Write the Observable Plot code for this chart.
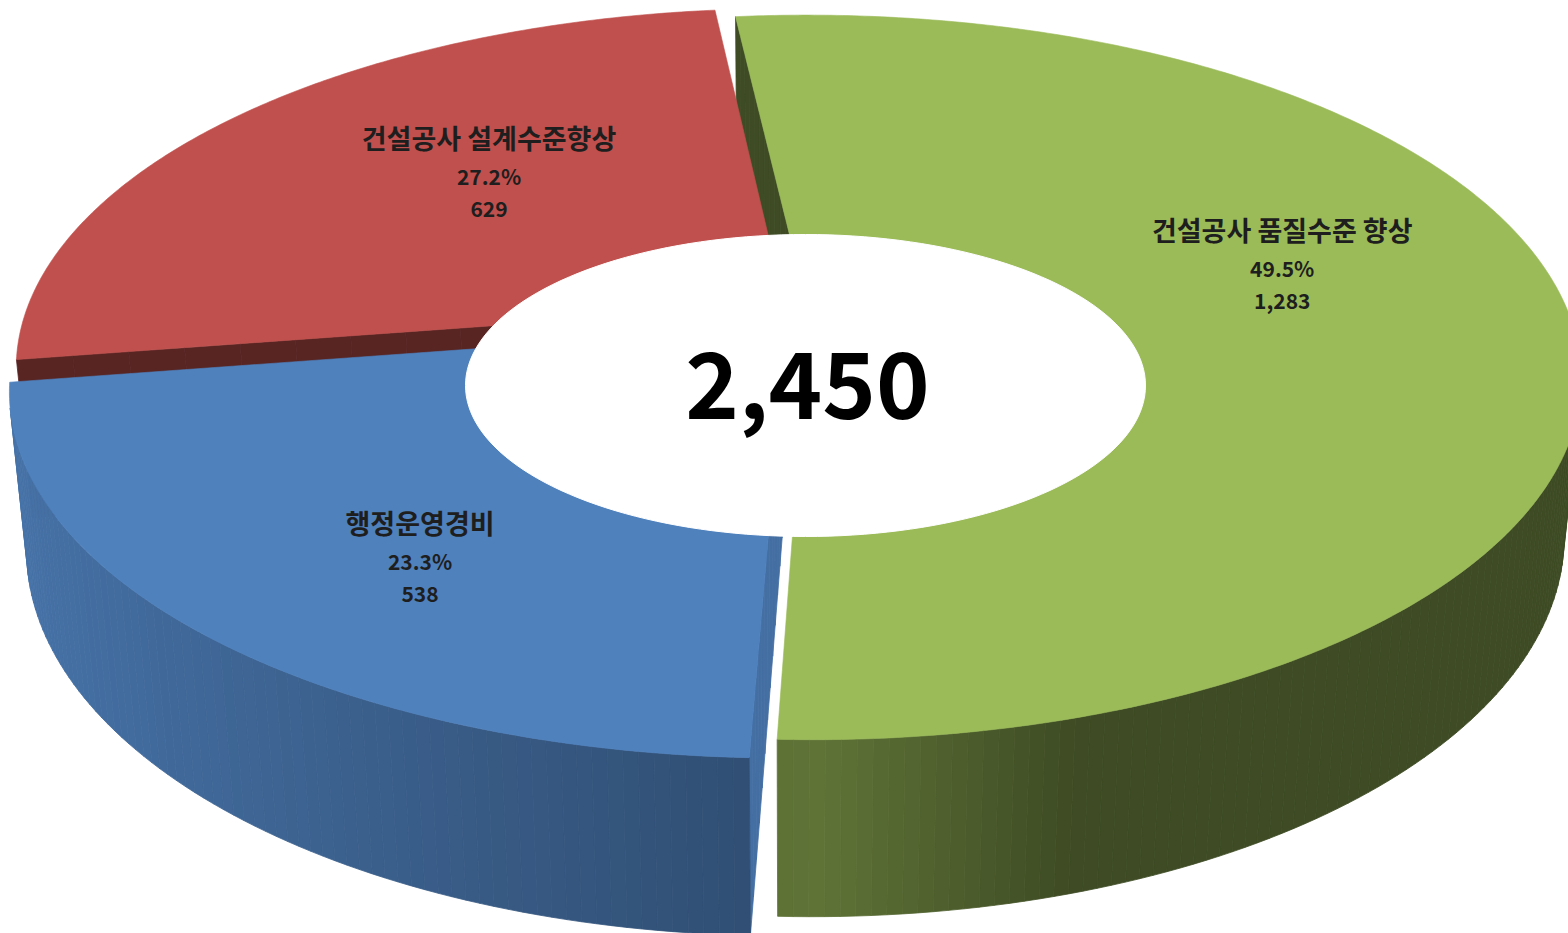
<!DOCTYPE html>
<html>
<head>
<meta charset="utf-8">
<script src="https://cdn.jsdelivr.net/npm/d3@7"></script>
<script src="https://cdn.jsdelivr.net/npm/@observablehq/plot@0.6"></script>
<style>
html, body { margin: 0; padding: 0; background: #fff; overflow: hidden; }
#chart svg { display: block; }
</style>
</head>
<body>
<div id="chart"></div>
<script>
// ---------- data (clockwise order from the top) ----------
const categories = ["건설공사 품질수준 향상", "행정운영경비", "건설공사 설계수준향상"];
const amounts = [1283, 538, 629];
const percentLabels = ["49.5%", "23.3%", "27.2%"];
const amountLabels = ["1,283", "538", "629"];
const totalLabel = "2,450";

// ---------- style / layout ----------
const topColors = ["#9BBB59", "#4F81BD", "#C0504D"];
const endShade = [0.40, 0.86, 0.46];
const W = 1568, H = 933;
const cam = { phi: 27.54, D: 5.067, F: 3851, cx: 795, cy: 314.1 };
const depth = 0.236;
const startAngle = -6.35;
const explodeX = 0.018, explodeZ = 0.045;
const labelPolar = [[-9.9, 0.652], [-5.7, 0.7285], [6.1, 0.578]];
const hole = { cx: 805, cy: 385, rx: 340, ry: 151 };
const fontKR = "'Noto Sans CJK KR', 'Malgun Gothic', sans-serif";

// ---------- 3D projection ----------
const toRad = Math.PI / 180;
const sP = Math.sin(cam.phi * toRad), cP = Math.cos(cam.phi * toRad);
const camPos = [0, cam.D * sP, cam.D * cP];
function project([X, Y, Z]) {
  const zc = cam.D - Y * sP - Z * cP;
  return { x: cam.cx + cam.F * X / zc, y: cam.cy + cam.F * (Z * sP - Y * cP) / zc, zc };
}
const total = d3.sum(amounts);
const cum = d3.cumsum([0, ...amounts]);
const angles = Array.from(cum, v => startAngle + v / total * 360);
const slices = amounts.map((v, i) => {
  const a0 = angles[i], a1 = angles[i + 1], mid = (a0 + a1) / 2;
  return { i, a0, a1, mid,
    ox: explodeX * Math.sin(mid * toRad),
    oz: -explodeZ * Math.cos(mid * toRad),
    color: topColors[i] };
});
function pt(sl, deg, r, Y) {
  const t = deg * toRad;
  return [sl.ox + r * Math.sin(t), Y, sl.oz - r * Math.cos(t)];
}
function shade(col, f) {
  const c = d3.rgb(col);
  return d3.rgb(c.r * f, c.g * f, c.b * f).formatHex();
}
function wallLight(deg) {
  const v = -Math.sin(deg * toRad);
  return Math.max(0.4, v >= 0 ? 0.6 + 0.3 * v : 0.62 + 0.75 * v);
}
function visible(n, p) {
  return n[0] * (camPos[0] - p[0]) + n[1] * (camPos[1] - p[1]) + n[2] * (camPos[2] - p[2]) > 0;
}

// walls (outer side + radial end faces), sorted far -> near
const wallPieces = [];
slices.forEach(sl => {
  const steps = Math.ceil(sl.a1 - sl.a0);
  for (let k = 0; k < steps; k++) {
    const t0 = sl.a0 + (sl.a1 - sl.a0) * k / steps;
    const t1 = sl.a0 + (sl.a1 - sl.a0) * (k + 1) / steps;
    const tm = (t0 + t1) / 2;
    const n = [Math.sin(tm * toRad), 0, -Math.cos(tm * toRad)];
    const pm = pt(sl, tm, 1, -depth / 2);
    if (!visible(n, pm)) continue;
    wallPieces.push({
      pts: [pt(sl, t0, 1, 0), pt(sl, t1, 1, 0), pt(sl, t1, 1, -depth), pt(sl, t0, 1, -depth)],
      fill: shade(sl.color, wallLight(tm)), zc: project(pm).zc });
  }
  [[sl.a0, -1], [sl.a1, 1]].forEach(([a, sgn]) => {
    const n = [sgn * Math.cos(a * toRad), 0, sgn * Math.sin(a * toRad)];
    const N = 14;
    for (let j = 0; j < N; j++) {
      const r0 = j / N, r1 = (j + 1) / N, rm = (r0 + r1) / 2;
      const pm = pt(sl, a, rm, -depth / 2);
      if (!visible(n, pm)) continue;
      wallPieces.push({
        pts: [pt(sl, a, r0, 0), pt(sl, a, r1, 0), pt(sl, a, r1, -depth), pt(sl, a, r0, -depth)],
        fill: shade(sl.color, endShade[sl.i]), zc: project(pm).zc });
    }
  });
});
wallPieces.sort((a, b) => b.zc - a.zc);

function toRows(polys) {
  const rows = [];
  polys.forEach((p, id) => {
    const pr = p.pts.map(project);
    pr.push(pr[0]);
    pr.forEach(q => rows.push({ x: q.x, y: q.y, id, fill: p.fill }));
  });
  return rows;
}
const wallRows = toRows(wallPieces);

// top faces
const topPolys = slices.map(sl => {
  const pts = [pt(sl, sl.mid, 0, 0)];
  const steps = Math.ceil((sl.a1 - sl.a0) * 2);
  for (let k = 0; k <= steps; k++) pts.push(pt(sl, sl.a0 + (sl.a1 - sl.a0) * k / steps, 1, 0));
  return { pts, fill: sl.color };
});
const topRows = toRows(topPolys);

// central white oval
const holeRows = d3.range(0, 361, 2).map(d => ({
  x: hole.cx + hole.rx * Math.cos(d * toRad),
  y: hole.cy + hole.ry * Math.sin(d * toRad)
}));

// labels
const labelRows = slices.map(sl => {
  const [da, r] = labelPolar[sl.i];
  const p = project(pt(sl, sl.mid + da, r, 0));
  return { x: p.x, y: p.y, name: categories[sl.i], pct: percentLabels[sl.i], amt: amountLabels[sl.i] };
});

const chart = Plot.plot({
  width: W, height: H, margin: 0,
  x: { domain: [0, W], range: [0, W], axis: null },
  y: { domain: [0, H], range: [0, H], axis: null },
  color: { type: "identity" },
  style: { background: "#fff", overflow: "hidden" },
  marks: [
    Plot.line(wallRows, { x: "x", y: "y", z: "id", fill: "fill", stroke: "fill", strokeWidth: 0.8, curve: "linear", clip: true }),
    Plot.line(topRows, { x: "x", y: "y", z: "id", fill: "fill", stroke: "fill", strokeWidth: 0.6, curve: "linear", clip: true }),
    Plot.line(holeRows, { x: "x", y: "y", fill: "#ffffff", stroke: "#ffffff", strokeWidth: 1, curve: "linear" }),
    Plot.text([{ x: hole.cx + 2, y: hole.cy + 4, t: totalLabel }], { x: "x", y: "y", text: "t", fontSize: 91, fontWeight: 700, fontFamily: fontKR, fill: "#000" }),
    Plot.text(labelRows, { x: "x", y: d => d.y - 35, text: "name", fontSize: 27, fontWeight: 700, fontFamily: fontKR, fill: "#1e1e1e" }),
    Plot.text(labelRows, { x: "x", y: d => d.y + 3, text: "pct", fontSize: 21, fontWeight: 700, fontFamily: fontKR, fill: "#1e1e1e" }),
    Plot.text(labelRows, { x: "x", y: d => d.y + 35, text: "amt", fontSize: 21, fontWeight: 700, fontFamily: fontKR, fill: "#1e1e1e" })
  ]
});
document.getElementById("chart").appendChild(chart);
</script>
</body>
</html>
